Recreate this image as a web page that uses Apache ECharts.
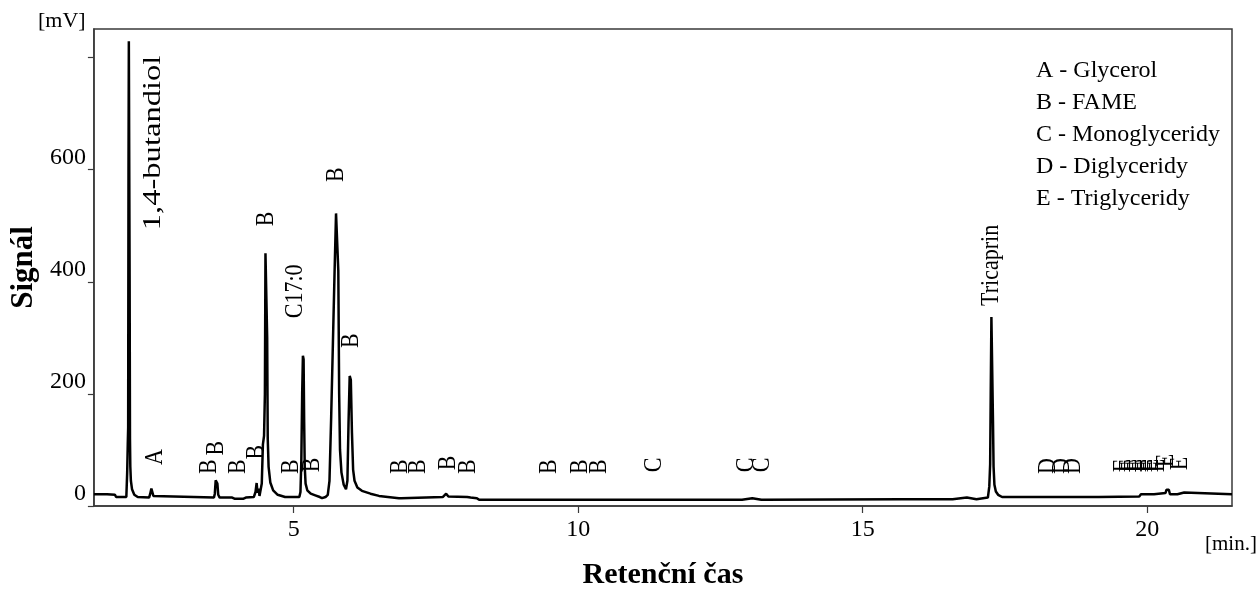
<!DOCTYPE html>
<html>
<head>
<meta charset="utf-8">
<title>Chromatogram</title>
<script src="https://cdn.jsdelivr.net/npm/echarts@6/dist/echarts.min.js"></script>
<style>
  html, body { margin: 0; padding: 0; background: #ffffff; }
  #chart { width: 1258px; height: 595px; }
</style>
</head>
<body>
<div id="chart"></div>
<script>
// Retention time (min) and detector signal (mV) of the FID trace
const retentionTimes = [
  1.49, 1.68, 1.70, 1.72, 1.86, 1.88, 2.06,
  2.075, 2.085, 2.092, 2.098, 2.104, 2.112, 2.118, 2.124, 2.13, 2.14, 2.16, 2.20, 2.26, 2.46,
  2.48, 2.50, 2.52, 2.535, 2.56, 3.60,
  3.615, 3.63, 3.645, 3.66, 3.675, 3.70, 3.92, 3.96, 4.12, 4.16,
  4.30, 4.33, 4.35, 4.365, 4.385, 4.40, 4.42, 4.44, 4.46, 4.48, 4.495, 4.505, 4.52, 4.535, 4.545,
  4.56, 4.59, 4.64, 4.72, 4.85, 4.96, 4.97, 4.98, 5.10,
  5.12, 5.135, 5.15, 5.163, 5.175, 5.185, 5.195, 5.21, 5.24, 5.30, 5.38, 5.46, 5.50, 5.56,
  5.60, 5.63, 5.66, 5.69, 5.72, 5.745, 5.77, 5.785, 5.80, 5.815, 5.84, 5.88, 5.92,
  5.945, 5.965, 5.985, 6.005, 6.025, 6.045, 6.07, 6.12, 6.20, 6.35, 6.50,
  6.85, 6.87, 6.89, 7.62, 7.68, 7.72, 8.05, 8.08, 8.11, 8.22, 8.26,
  9.42, 9.45, 9.48, 10.36, 10.39, 10.42, 11.29, 11.32, 11.35,
  12.88, 12.90, 13.06, 13.08, 13.22, 13.24, 13.26,
  15.68, 15.70, 15.72, 16.18, 16.20, 16.22, 16.58, 16.60, 16.83, 16.85, 17.00, 17.02, 17.20,
  17.225, 17.24, 17.25, 17.262, 17.278, 17.29, 17.30, 17.315, 17.34, 17.38, 17.45,
  18.63, 18.65, 18.67, 19.15, 19.17, 19.86, 19.89, 20.12, 20.14, 20.32, 20.34, 20.38, 20.40,
  20.53, 20.55, 20.65, 20.67, 21.49
];
const signalMv = [
  21, 21, 23, 21, 20, 16, 16,
  60, 110, 140, 600, 829, 829, 400, 120, 70, 45, 30, 20, 16, 15,
  22, 31, 30, 18, 15, 15,
  22, 46, 47, 40, 20, 15, 15, 13, 13, 15,
  16, 25, 41, 24, 31, 18, 20, 40, 110, 125, 200, 451, 451, 300, 120,
  70, 42, 28, 20, 16, 16, 19, 16, 16,
  25, 80, 200, 268, 262, 150, 70, 40, 28, 22, 19, 16, 14, 16,
  20, 45, 160, 290, 420, 522, 522, 420, 200, 100, 60, 38, 30,
  45, 150, 232, 225, 130, 65, 45, 33, 27, 22, 18,
  14, 17, 14, 16, 22, 17, 16, 18, 15, 14, 11,
  11, 13, 11, 11, 13, 11, 11, 13, 11,
  11, 14, 14, 11, 11, 14, 11,
  12, 15, 12, 12, 14, 12, 12, 15, 15, 12, 12, 15, 15,
  35, 75, 200, 337, 337, 150, 70, 38, 26, 20, 16,
  16, 18, 16, 16, 17, 17, 21, 21, 23, 23, 29, 29, 21,
  21, 24, 24, 21, 21
];

// Peak annotations: text, retention time (min), signal level (mV) where the text starts
const peakLabels = [
  '1,4-butandiol', 'A', 'B', 'B', 'B', 'B', 'B', 'B', 'C17:0', 'B', 'B', 'B',
  'B', 'B', 'B', 'B', 'B', 'B', 'B', 'C', 'C', 'C', 'Tricaprin',
  'D', 'D', 'D', 'E', 'E', 'E', 'E', 'E', 'E', 'E', 'E', 'E'
];
const peakLabelTimes = [
  2.537, 2.578, 3.516, 3.648, 4.025, 4.35, 4.525, 4.964, 5.025, 5.332, 5.753, 6.007,
  6.876, 7.192, 7.718, 8.069, 9.49, 10.03, 10.38, 11.34, 12.96, 13.24, 17.26,
  18.27, 18.50, 18.71, 19.578, 19.683, 19.77, 19.858, 19.963, 20.069, 20.174, 20.332, 20.577
];
const peakLabelLevels = [
  492, 73, 57, 90, 57, 83, 499, 57, 335, 60, 578, 282,
  57, 57, 64, 57, 57, 57, 57, 60, 60, 60, 357,
  57, 57, 57, 60, 60, 60, 60, 60, 60, 60, 69, 64
];

// Axis ticks
const timeTicks = [5, 10, 15, 20];
const signalTicks = [0, 200, 400, 600, 800];
const signalTickLabels = [0, 200, 400, 600];

// Legend of compound classes
const classKey = [
  'A - Glycerol',
  'B - FAME',
  'C - Monoglyceridy',
  'D - Diglyceridy',
  'E - Triglyceridy'
];

const serif = "'Liberation Serif', 'Times New Roman', serif";

const trace = retentionTimes.map((t, i) => [t, signalMv[i]]);
const labelPoints = peakLabelTimes.map((t, i) => [t, peakLabelLevels[i]]);

const chart = echarts.init(document.getElementById('chart'), null, { renderer: 'canvas' });

chart.setOption({
  animation: false,
  backgroundColor: '#ffffff',
  grid: {
    left: 92, right: 26, top: 29, bottom: 86,
    show: true, borderColor: '#3a3a3a', borderWidth: 1.5, backgroundColor: 'transparent'
  },
  xAxis: {
    type: 'value',
    min: 1.49, max: 21.49,
    name: 'Retenční čas',
    nameLocation: 'middle',
    nameGap: 54,
    nameTextStyle: { fontFamily: serif, fontSize: 30, fontWeight: 'bold', color: '#000' },
    axisLine: { show: true, lineStyle: { color: '#3a3a3a', width: 1.5 } },
    axisTick: { show: true, inside: false, length: 7, customValues: timeTicks, lineStyle: { color: '#3a3a3a', width: 1.2 } },
    axisLabel: { customValues: timeTicks, margin: 12, fontFamily: serif, fontSize: 24, color: '#000' },
    splitLine: { show: false }
  },
  yAxis: {
    type: 'value',
    min: 0, max: 851,
    name: 'Signál',
    nameLocation: 'middle',
    nameGap: 52,
    nameRotate: 90,
    nameTextStyle: { fontFamily: serif, fontSize: 31, fontWeight: 'bold', color: '#000' },
    axisLine: { show: true, lineStyle: { color: '#3a3a3a', width: 1.5 } },
    axisTick: { show: true, inside: false, length: 6, customValues: signalTicks, lineStyle: { color: '#3a3a3a', width: 1.2 } },
    axisLabel: { customValues: signalTickLabels, margin: 8, verticalAlign: 'bottom', fontFamily: serif, fontSize: 24, color: '#000' },
    splitLine: { show: false }
  },
  graphic: [
    { type: 'text', left: 38, top: 10, style: { text: '[mV]', fontFamily: serif, fontSize: 22, fill: '#000' } },
    { type: 'text', left: 1205, top: 534, style: { text: '[min.]', fontFamily: serif, fontSize: 21, fill: '#000' } },
    {
      type: 'text', left: 1036, top: 55,
      style: { text: classKey.join('\n'), fontFamily: serif, fontSize: 24, lineHeight: 32, fill: '#000' }
    }
  ],
  series: [
    {
      type: 'line',
      data: trace,
      showSymbol: false,
      symbol: 'none',
      smooth: false,
      lineStyle: { color: '#000', width: 2.5 },
      z: 3
    },
    {
      type: 'custom',
      data: labelPoints,
      encode: { x: 0, y: 1 },
      z: 4,
      renderItem: function (params, api) {
        const p = api.coord([api.value(0), api.value(1)]);
        const text = peakLabels[params.dataIndex];
        return {
          type: 'text',
          x: p[0],
          y: p[1],
          rotation: Math.PI / 2,
          scaleX: text === '1,4-butandiol' ? 1.48 : 1,
          scaleY: 1.15,
          style: {
            text: text,
            fontFamily: serif,
            fontSize: 22,
            fill: '#000',
            align: 'left',
            verticalAlign: 'middle'
          }
        };
      }
    }
  ]
});
</script>
</body>
</html>
